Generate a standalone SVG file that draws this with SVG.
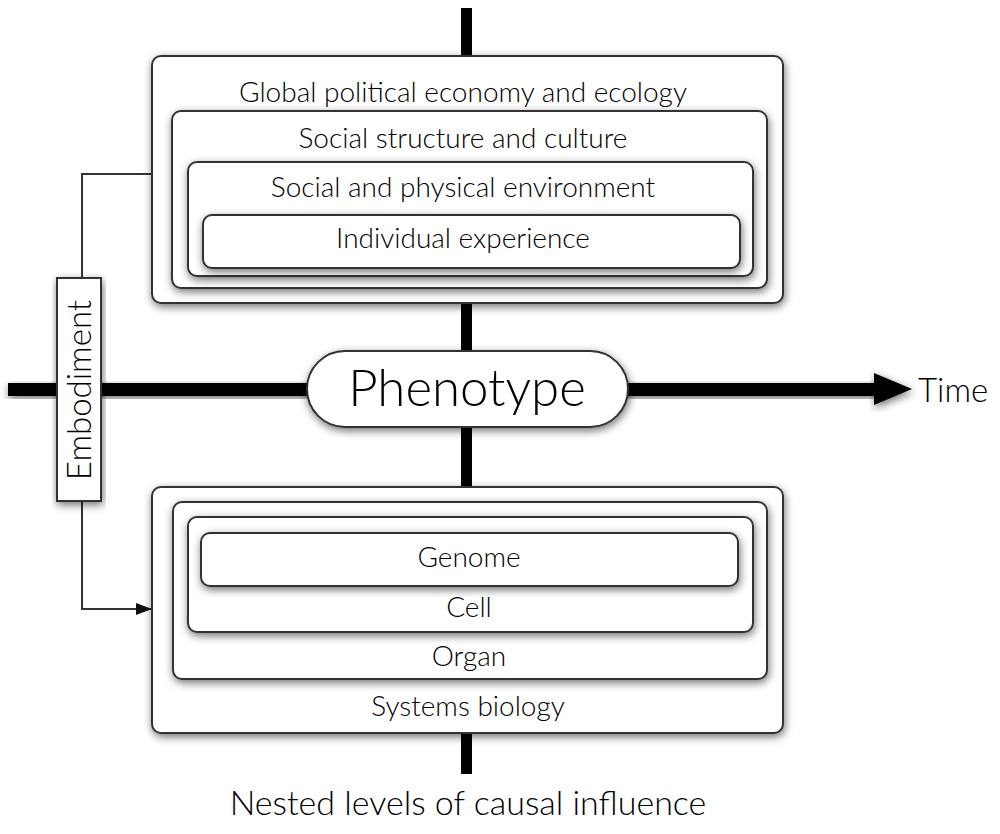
<svg xmlns="http://www.w3.org/2000/svg" width="1000" height="834" viewBox="0 0 1000 834">
<defs>
<filter id="sh" x="-10%" y="-10%" width="120%" height="130%">
<feDropShadow dx="1" dy="3" stdDeviation="4" flood-color="#000" flood-opacity="0.55"/>
</filter>
<marker id="ah" markerWidth="16" markerHeight="12" refX="15" refY="6" orient="auto" markerUnits="userSpaceOnUse">
<path d="M0,0 L16,6 L0,12 Z" fill="#111"/>
</marker>
</defs>
<style>
.box{fill:#fff;stroke:#333;stroke-width:2;filter:url(#sh)}
.t{font-family:Lato,"Open Sans","Liberation Sans",sans-serif;font-weight:300;font-size:28px;fill:#000;text-anchor:middle}
.ln{fill:none;stroke:#333;stroke-width:2}
</style>
<rect width="1000" height="834" fill="#fff"/>
<g id="axes">
<rect x="461" y="8" width="11" height="766" fill="#000"/>
<rect x="8" y="383" width="870" height="13" fill="#000" filter="url(#sh)"/>
<path d="M874,373 L912,389 L874,405 Z" fill="#000" filter="url(#sh)"/>
</g>
<g id="connectors">
<path class="ln" d="M82,278 V174 H152"/>
<path class="ln" d="M82,501 V609 H151" marker-end="url(#ah)"/>
</g>
<g id="top-levels">
<g id="global"><rect class="box" x="152" y="56" width="631" height="247" rx="9"/><text class="t" x="463" y="102">Global political economy and ecology</text></g>
<g id="social-structure"><rect class="box" x="172" y="111" width="595" height="177" rx="9"/><text class="t" x="463" y="148">Social structure and culture</text></g>
<g id="environment"><rect class="box" x="188" y="162" width="565" height="114" rx="9"/><text class="t" x="463" y="197">Social and physical environment</text></g>
<g id="individual"><rect class="box" x="203" y="215" width="537" height="53" rx="9"/><text class="t" x="463" y="248">Individual experience</text></g>
</g>
<g id="bottom-levels">
<g id="systems"><rect class="box" x="152" y="487" width="631" height="246" rx="9"/><text class="t" x="468" y="716">Systems biology</text></g>
<g id="organ"><rect class="box" x="173" y="502" width="594" height="177" rx="9"/><text class="t" x="469" y="666">Organ</text></g>
<g id="cell"><rect class="box" x="188" y="517" width="565" height="115" rx="9"/><text class="t" x="469" y="617">Cell</text></g>
<g id="genome"><rect class="box" x="201" y="533" width="537" height="53" rx="9"/><text class="t" x="469" y="567">Genome</text></g>
</g>
<g id="phenotype">
<rect class="box" x="307" y="351" width="321" height="76" rx="38"/>
<text class="t" x="467" y="406" style="font-size:51px">Phenotype</text>
</g>
<g id="embodiment">
<rect class="box" x="57" y="278" width="44" height="223"/>
<text class="t" transform="translate(91,390) rotate(-90)" x="0" y="0" style="font-size:33px">Embodiment</text>
</g>
<g id="time-label"><text class="t" x="918" y="402" style="font-size:33px;text-anchor:start">Time</text></g>
<g id="caption"><text class="t" x="468" y="815" style="font-size:34px">Nested levels of causal influence</text></g>
</svg>
